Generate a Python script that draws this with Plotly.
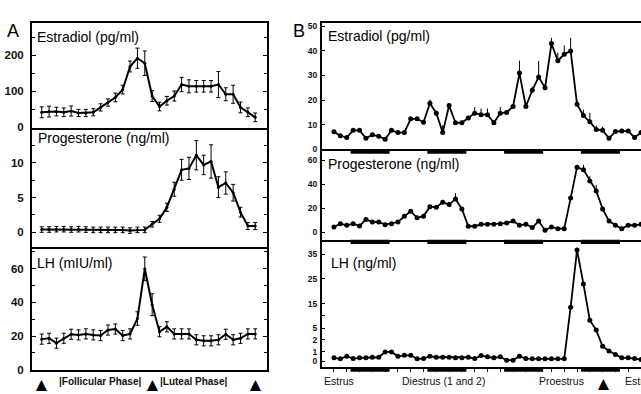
import plotly.graph_objects as go
import numpy as np

W, H = 641, 394

# ---------------- Panel A (day of cycle) ----------------
A_DAYS = list(range(1, 31))
A_E2 = [42, 44, 44, 42, 45.5, 40, 40, 42, 55.5, 69, 83, 105, 169, 192, 178,
        87, 58, 74, 87, 119, 114, 114, 114, 114, 119, 92, 92, 55.5, 42, 28]
A_E2_ERR = [15, 15, 12, 12, 14, 10, 10, 10, 10, 10, 12, 12, 15, 28, 34,
            15, 12, 12, 14, 20, 18, 16, 16, 16, 36, 18, 25, 15, 12, 12]
A_P4 = [0.4, 0.4, 0.45, 0.45, 0.4, 0.45, 0.4, 0.35, 0.35, 0.35, 0.35, 0.35, 0.25, 0.35, 0.35,
        1.16, 1.95, 3.6, 6.2, 9.0, 9.2, 11.1, 9.7, 10.2, 6.5, 7.1, 5.7, 2.9, 0.9, 0.9]
A_P4_ERR = [0.4, 0.4, 0.4, 0.4, 0.4, 0.4, 0.4, 0.4, 0.4, 0.4, 0.4, 0.4, 0.4, 0.4, 0.4,
            0.4, 0.5, 0.6, 1.0, 1.5, 1.6, 2.1, 1.4, 2.4, 1.5, 1.6, 1.2, 0.7, 0.5, 0.5]
A_LH = [18.2, 18.7, 15.8, 18.7, 21.1, 20.7, 21.3, 20.7, 20.3, 23.6, 24.2, 20.3, 21.3, 30.4, 59.9,
        38.6, 22.6, 25.5, 21.3, 21.3, 21.3, 17.8, 17.2, 17.2, 17.8, 21.1, 17.8, 18.7, 21.3, 21.3]
A_LH_ERR = [3, 3, 3, 3, 3, 3, 3, 3, 3, 3, 3, 3, 3, 4, 7,
            6.5, 3, 3, 3, 3, 3, 3, 3, 3, 3, 3, 3, 3, 3, 3]
A_MARK_DAYS = [1, 16, 30]
A_PHASES = ["|Follicular Phase|", "|Luteal Phase|"]

# ---------------- Panel B (2-h samples) ----------------
B_SAMPLES = list(range(1, 50))
B_E2 = [7.1, 5.5, 4.8, 7.7, 7.7, 4.5, 5.9, 5.3, 4.1, 7.7, 6.8, 6.8, 12.4, 12.4, 11.0, 18.7,
        14.7, 6.8, 17.8, 10.8, 10.8, 12.7, 14.7, 14.1, 14.1, 10.8, 14.7, 15.0, 17.4, 31.0,
        17.4, 24.0, 29.4, 25.0, 43.0, 36.0, 38.6, 40.0, 18.3, 13.7, 11.2, 8.1, 7.7, 4.5,
        7.2, 7.4, 7.4, 4.8, 6.8]
B_E2_ERR = [0.8, 0.8, 0.8, 0.8, 0.8, 0.8, 0.8, 0.8, 0.8, 0.8, 0.8, 0.8, 0.8, 0.8, 0.8, 1.5,
            1, 3, 1, 1, 1, 1, 2.5, 2.5, 2.5, 1, 2.5, 1, 1, 5,
            1, 1.5, 6.5, 1.5, 2.3, 3.3, 3.6, 5.3, 1.5, 2.4, 3.6, 1.5, 1.5, 1,
            1, 1, 1, 1, 1]
B_P4 = [4.5, 7.2, 5.9, 7.2, 5.3, 10.8, 8.6, 8.6, 6.4, 7.2, 8.6, 13.3, 17.6, 12.1, 13.5, 21.4,
        20.9, 25.0, 23.1, 27.7, 19.5, 5.1, 5.1, 6.7, 6.7, 6.7, 7.2, 7.8, 9.4, 5.9,
        6.7, 4.0, 9.4, 1.8, 4.5, 3.1, 3.1, 28.5, 54.2, 52.2, 42.7, 34.5, 19.5, 9.4,
        5.9, 3.1, 5.9, 5.9, 6.7]
B_P4_ERR = [1, 1, 1, 1, 1, 1, 1, 1, 1, 1, 1, 1, 1, 1, 1, 1,
            1, 2, 2, 5, 1, 1, 1, 1, 1, 1, 1, 1, 1, 1,
            1, 1, 1, 1, 1, 1, 1, 1, 2, 4, 4, 5, 2, 1,
            1, 1, 1, 1, 1]
B_LH = [0.37, 0.27, 0.53, 0.3, 0.37, 0.37, 0.43, 0.43, 0.97, 0.97, 0.53, 0.63, 0.63, 0.27,
        0.3, 0.53, 0.43, 0.43, 0.43, 0.37, 0.37, 0.43, 0.3, 0.6, 0.47, 0.37, 0.47, 0.13,
        0.13, 0.53, 0.3, 0.27, 0.27, 0.27, 0.27, 0.27, 0.27, 13.5, 36.8, 23.0, 8.2, 4.5,
        1.45, 1.05, 0.7, 0.37, 0.37, 0.3, 0.2]
B_DARK_START = [3.6, 15.6, 27.6, 39.6]
B_DARK_END = [9.7, 21.7, 33.7, 45.7]
B_STAGES = ["Estrus", "Diestrus (1 and 2)", "Proestrus", "Estrus"]
B_MARK_SAMPLE = [43.2]

# broken LH axis (ng/ml) -> axis position
LH_BREAK_VAL = [0, 1, 2, 5, 35, 50]
LH_BREAK_POS = [0, 10, 22, 34, 109, 146.5]
LH_TICKS = [0, 1, 2, 5, 10, 15, 25, 35]
LH_TICKTEXT = ["0", "1", "2", "5", "", "15", "25", "35"]


def lh_scale(v):
    return np.interp(np.asarray(v, dtype=float), LH_BREAK_VAL, LH_BREAK_POS)


def px_x(x):
    return x / W


def px_y(y):
    return 1 - y / H


FONT = "Liberation Sans, Arial, sans-serif"
fig = go.Figure()

# --- A traces ---
a_specs = [("x", "y", A_E2, A_E2_ERR), ("x2", "y2", A_P4, A_P4_ERR), ("x3", "y3", A_LH, A_LH_ERR)]
for xa, ya, vals, err in a_specs:
    fig.add_trace(go.Scatter(
        x=A_DAYS, y=vals, xaxis=xa, yaxis=ya, mode="lines+markers",
        line=dict(color="black", width=2), marker=dict(color="black", size=3),
        error_y=dict(type="data", array=err, visible=True, color="black", thickness=1, width=2),
        cliponaxis=False))

# --- B traces ---
fig.add_trace(go.Scatter(
    x=B_SAMPLES, y=B_E2, xaxis="x4", yaxis="y4", mode="lines+markers",
    line=dict(color="black", width=1.8), marker=dict(color="black", size=5),
    error_y=dict(type="data", array=B_E2_ERR, arrayminus=[0] * len(B_E2_ERR),
                 visible=True, color="black", thickness=1, width=0)))
fig.add_trace(go.Scatter(
    x=B_SAMPLES, y=B_P4, xaxis="x5", yaxis="y5", mode="lines+markers",
    line=dict(color="black", width=1.8), marker=dict(color="black", size=5),
    error_y=dict(type="data", array=B_P4_ERR, arrayminus=[0] * len(B_P4_ERR),
                 visible=True, color="black", thickness=1, width=0)))
fig.add_trace(go.Scatter(
    x=B_SAMPLES, y=lh_scale(B_LH), xaxis="x6", yaxis="y6", mode="lines+markers",
    line=dict(color="black", width=1.8), marker=dict(color="black", size=5),
    customdata=B_LH, hovertemplate="%{customdata} ng/ml<extra></extra>"))

# --- axes ---
A_DOM_X = [px_x(32), px_x(267)]
B_DOM_X = [px_x(322), 1.0]
A_ROWS = [(22, 129), (129, 250), (250, 376)]
B_ROWS = [(22, 151), (151, 243), (243, 373)]

lay = dict(width=W, height=H, margin=dict(l=0, r=0, t=0, b=0),
           plot_bgcolor="white", paper_bgcolor="white", showlegend=False,
           font=dict(family=FONT, color="black"))

base_x = dict(showline=True, linecolor="black", linewidth=2,
              showgrid=False, zeroline=False, showticklabels=False, ticks="")
a_y_specs = [
    ([-0.8, 290.7], [0, 100, 200], 50),
    ([-2.05, 15.06], [0, 5, 10], 2.5),
    ([-0.3, 73.1], [0, 20, 40, 60], 10),
]
for i, ((top, bot), (rng, tv, mdt)) in enumerate(zip(A_ROWS, a_y_specs)):
    n = "" if i == 0 else str(i + 1)
    lay["xaxis" + n] = dict(base_x, domain=A_DOM_X, range=[-0.32, 31.6], anchor="y" + n,
                            mirror=(i == 0))
    lay["yaxis" + n] = dict(
        domain=[px_y(bot), px_y(top)], range=rng, anchor="x" + n,
        showline=True, linecolor="black", linewidth=2, mirror="allticks",
        showgrid=False, zeroline=False, ticks="inside", ticklen=4, tickwidth=1,
        tickcolor="black", tickvals=tv, ticklabelstandoff=4,
        tickfont=dict(size=11.5, family=FONT, color="#111", weight="bold"),
        minor=dict(ticks="inside", ticklen=3, tickwidth=1, dtick=mdt, tickcolor="black"))

b_y_specs = [
    ([0, 51.5], [0, 10, 20, 30, 40, 50], None),
    ([-6.1, 69.1], [0, 20, 40, 60], None),
    ([-6, 124], list(lh_scale(LH_TICKS)), LH_TICKTEXT),
]
for i, ((top, bot), (rng, tv, tt)) in enumerate(zip(B_ROWS, b_y_specs)):
    n = str(i + 4)
    xa = dict(base_x, domain=B_DOM_X, range=[-0.87, 49.0], anchor="y" + n, mirror=(i == 0))
    if i == 2:
        xa.update(ticks="outside", tick0=1, dtick=2, ticklen=3, tickwidth=1, tickcolor="black")
    lay["xaxis" + n] = xa
    ya = dict(
        domain=[px_y(bot), px_y(top)], range=rng, anchor="x" + n,
        showline=True, linecolor="black", linewidth=2, mirror=False,
        showgrid=False, zeroline=False, ticks="inside", ticklen=3, tickwidth=1,
        tickcolor="black", tickvals=tv, ticklabelstandoff=1,
        tickfont=dict(size=8.5, family=FONT, color="#111", weight="bold"))
    if tt is not None:
        ya["ticktext"] = tt
    lay["yaxis" + n] = ya

fig.update_layout(**lay)

# --- dark-phase bars under each B panel ---
for i, (top, bot) in enumerate(B_ROWS):
    xr = "x" + str(i + 4)
    for s, e in zip(B_DARK_START, B_DARK_END):
        fig.add_shape(type="rect", xref=xr, yref="paper", x0=s, x1=e,
                      y0=px_y(bot + 4.5), y1=px_y(bot), fillcolor="black",
                      line=dict(width=0), layer="above")

# --- text ---
ann = []
titles = [("Estradiol (pg/ml)", 35, 37), ("Progesterone (ng/ml)", 36, 139),
          ("LH (mIU/ml)", 35, 267), ("Estradiol (pg/ml)", 326, 36),
          ("Progesterone (ng/ml)", 326, 166), ("LH (ng/ml)", 329, 267)]
for t, x, y in titles:
    ann.append(dict(text=t, x=px_x(x), y=px_y(y), xref="paper", yref="paper",
                    xanchor="left", yanchor="middle", showarrow=False,
                    font=dict(size=14, family=FONT, color="black")))
ann.append(dict(text="A", x=px_x(5), y=px_y(31), xref="paper", yref="paper",
                xanchor="left", yanchor="middle", showarrow=False,
                font=dict(size=18, family=FONT, color="black")))
ann.append(dict(text="B", x=px_x(291), y=px_y(31), xref="paper", yref="paper",
                xanchor="left", yanchor="middle", showarrow=False,
                font=dict(size=18, family=FONT, color="black")))
for d in A_MARK_DAYS:
    ann.append(dict(text="▲", x=d, y=px_y(390), xref="x3", yref="paper",
                    xanchor="center", yanchor="middle", showarrow=False,
                    font=dict(size=19, family=FONT, color="black")))
for t, x in zip(A_PHASES, [57, 158]):
    ann.append(dict(text=t, x=px_x(x), y=px_y(387), xref="paper", yref="paper",
                    xanchor="left", yanchor="middle", showarrow=False,
                    font=dict(size=10, family=FONT, color="#111", weight="bold")))
for t, x in zip(B_STAGES, [322, 400, 537, 623]):
    ann.append(dict(text=t, x=px_x(x), y=px_y(387), xref="paper", yref="paper",
                    xanchor="left", yanchor="middle", showarrow=False,
                    font=dict(size=10.5, family=FONT, color="#111")))
for s in B_MARK_SAMPLE:
    ann.append(dict(text="▲", x=s, y=px_y(389), xref="x6", yref="paper",
                    xanchor="center", yanchor="middle", showarrow=False,
                    font=dict(size=19, family=FONT, color="black")))
fig.update_layout(annotations=ann)

fig.write_html("out.html")
